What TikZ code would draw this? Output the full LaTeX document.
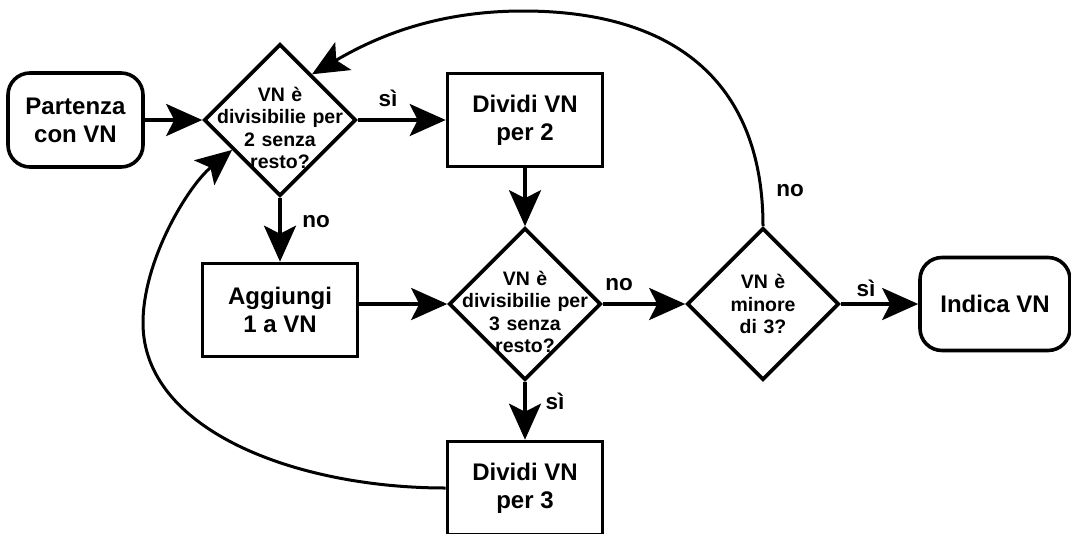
\documentclass[tikz,border=0pt]{standalone}
\usepackage{fontspec}
\setmainfont{Liberation Sans}
\usetikzlibrary{arrows.meta,shapes.geometric}

\begin{document}
\begin{tikzpicture}[x=1pt,y=-1pt,
  box/.style={draw,line width=3.6pt,minimum width=155pt,minimum height=93pt,inner sep=0pt,align=center,font=\bfseries\fontsize{24}{28}\selectfont},
  term/.style={box,rounded corners=22pt},
  dec/.style={draw,diamond,line width=3.6pt,minimum width=152pt,minimum height=152pt,inner sep=-20pt,text width=128pt,align=center,font=\bfseries\fontsize{19.5}{22.5}\selectfont},
  arr/.style={line width=3.4pt,-{Stealth[length=36pt,width=32pt,inset=8pt]}},
  loop/.style={arr,line width=3pt},
  lbl/.style={inner sep=0pt,font=\bfseries\fontsize{22.5}{26}\selectfont}]
\useasboundingbox (0,0) rectangle (1071,533);
\node[term,minimum width=135pt,minimum height=94pt] (start) at (75.5,120) {Partenza\\con VN};
\node[dec] (d1) at (280,120) {\rule{0pt}{30pt}VN è\\divisibilie per\\2 senza\\resto?};
\node[box] (div2) at (525,120) {Dividi VN\\per 2};
\node[box] (add) at (280,310) {Aggiungi\\1 a VN};
\node[dec] (d2) at (525,304) {\rule{0pt}{30pt}VN è\\divisibilie per\\3 senza\\resto?};
\node[dec] (d3) at (763,304) {VN è\\minore\\di 3?};
\node[term,minimum width=150pt] (out) at (995,304) {Indica VN};
\node[box] (div3) at (525,488) {Dividi VN\\per 3};
\coordinate (peak) at (523,11);
\coordinate (left) at (143,323);
\draw[arr] (start.east) -- (d1.west);
\draw[arr] (d1.east) -- (div2.west);
\draw[arr] (d1.south) -- (add.north);
\draw[arr] (div2.south) -- (d2.north);
\draw[arr] (add.east |- d2.west) -- (d2.west);
\draw[arr] (d2.east) -- (d3.west);
\draw[arr] (d2.south) -- (div3.north);
\draw[arr] (d3.east) -- (out.west);
\draw[loop] (d3.north) .. controls +(0,-140) and +(156,0) .. (peak) .. controls +(-95,0) and +(55,-32) .. (d1.55);
\draw[loop] (div3.west) .. controls +(-150,0) and +(0,107) .. (left) .. controls +(0,-63) and +(-44,36) .. (d1.212);
\node[lbl] (si1) at (388,98) {sì};
\node[lbl] (no1) at (316,222) {no};
\node[lbl] (no2) at (619,285) {no};
\node[lbl] (no3) at (790,191) {no};
\node[lbl] (si2) at (866,288) {sì};
\node[lbl] (si3) at (555,401) {sì};
\end{tikzpicture}
\end{document}
